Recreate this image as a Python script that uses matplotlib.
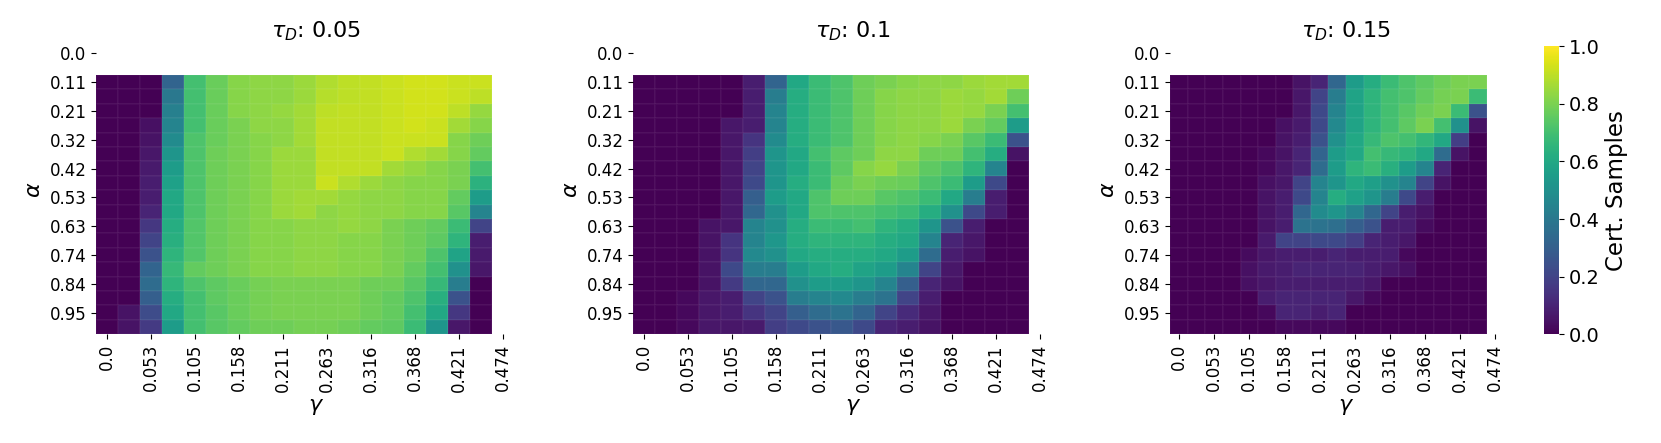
import numpy as np
import matplotlib
matplotlib.use("Agg")
import matplotlib.pyplot as plt
import seaborn as sns

# tick labels (every second grid value)
alpha_labels = ["0.0", "0.11", "0.21", "0.32", "0.42", "0.53", "0.63", "0.74", "0.84", "0.95"]
gamma_labels = ["0.0", "0.053", "0.105", "0.158", "0.211", "0.263", "0.316", "0.368", "0.421", "0.474"]
tau_values = ["0.05", "0.1", "0.15"]

# certified samples, one list per gamma column (alpha from 0.105 down to 1.0)
cert_tau005 = [
    [0, 0, 0, 0, 0, 0, 0, 0, 0, 0, 0, 0, 0, 0, 0, 0, 0, 0],
    [0, 0, 0, 0, 0, 0, 0, 0, 0, 0, 0, 0, 0, 0, 0, 0, 0.05, 0.05],
    [0, 0, 0, 0.04, 0.05, 0.06, 0.07, 0.08, 0.08, 0.1, 0.16, 0.2, 0.25, 0.32, 0.35, 0.3, 0.23, 0.17],
    [0.32, 0.4, 0.43, 0.45, 0.48, 0.52, 0.55, 0.57, 0.6, 0.6, 0.62, 0.63, 0.65, 0.67, 0.65, 0.62, 0.6, 0.55],
    [0.7, 0.7, 0.7, 0.7, 0.72, 0.72, 0.72, 0.72, 0.72, 0.72, 0.73, 0.73, 0.73, 0.76, 0.72, 0.7, 0.7, 0.7],
    [0.77, 0.77, 0.77, 0.77, 0.77, 0.78, 0.78, 0.78, 0.78, 0.78, 0.78, 0.78, 0.78, 0.78, 0.75, 0.75, 0.74, 0.74],
    [0.82, 0.82, 0.82, 0.8, 0.8, 0.8, 0.8, 0.8, 0.8, 0.8, 0.8, 0.8, 0.8, 0.8, 0.77, 0.77, 0.77, 0.76],
    [0.83, 0.83, 0.83, 0.83, 0.82, 0.82, 0.82, 0.82, 0.82, 0.82, 0.82, 0.82, 0.82, 0.82, 0.79, 0.79, 0.79, 0.78],
    [0.83, 0.83, 0.84, 0.83, 0.83, 0.85, 0.85, 0.85, 0.85, 0.85, 0.82, 0.82, 0.82, 0.82, 0.8, 0.8, 0.8, 0.78],
    [0.85, 0.85, 0.86, 0.86, 0.86, 0.85, 0.85, 0.85, 0.86, 0.86, 0.83, 0.83, 0.83, 0.83, 0.8, 0.8, 0.8, 0.79],
    [0.88, 0.89, 0.9, 0.91, 0.91, 0.91, 0.91, 0.92, 0.86, 0.83, 0.83, 0.83, 0.83, 0.83, 0.8, 0.8, 0.8, 0.79],
    [0.9, 0.9, 0.91, 0.91, 0.91, 0.91, 0.91, 0.88, 0.84, 0.84, 0.84, 0.82, 0.82, 0.82, 0.8, 0.8, 0.8, 0.78],
    [0.91, 0.91, 0.91, 0.91, 0.91, 0.91, 0.91, 0.85, 0.83, 0.83, 0.83, 0.82, 0.82, 0.82, 0.78, 0.78, 0.78, 0.76],
    [0.92, 0.92, 0.92, 0.92, 0.92, 0.92, 0.86, 0.83, 0.83, 0.83, 0.8, 0.8, 0.8, 0.8, 0.78, 0.76, 0.76, 0.75],
    [0.93, 0.93, 0.93, 0.93, 0.92, 0.88, 0.84, 0.82, 0.82, 0.82, 0.78, 0.78, 0.78, 0.76, 0.74, 0.72, 0.7, 0.68],
    [0.93, 0.93, 0.93, 0.92, 0.92, 0.86, 0.82, 0.82, 0.82, 0.82, 0.76, 0.75, 0.72, 0.7, 0.67, 0.63, 0.6, 0.52],
    [0.92, 0.92, 0.9, 0.86, 0.82, 0.82, 0.8, 0.8, 0.76, 0.74, 0.68, 0.65, 0.58, 0.5, 0.42, 0.25, 0.16, 0.06],
    [0.92, 0.9, 0.84, 0.82, 0.78, 0.76, 0.7, 0.64, 0.55, 0.45, 0.2, 0.08, 0.07, 0.06, 0, 0, 0, 0],
]

cert_tau010 = [
    [0, 0, 0, 0, 0, 0, 0, 0, 0, 0, 0, 0, 0, 0, 0, 0, 0, 0],
    [0, 0, 0, 0, 0, 0, 0, 0, 0, 0, 0, 0, 0, 0, 0, 0, 0, 0],
    [0, 0, 0, 0, 0, 0, 0, 0, 0, 0, 0, 0, 0, 0, 0, 0.02, 0.02, 0.02],
    [0, 0, 0, 0, 0, 0, 0, 0, 0, 0, 0.05, 0.05, 0.05, 0.05, 0.05, 0.06, 0.06, 0.06],
    [0, 0, 0, 0.06, 0.06, 0.06, 0.06, 0.06, 0.06, 0.06, 0.06, 0.15, 0.15, 0.22, 0.17, 0.08, 0.08, 0.06],
    [0.08, 0.08, 0.08, 0.08, 0.15, 0.18, 0.2, 0.22, 0.3, 0.33, 0.45, 0.45, 0.47, 0.42, 0.33, 0.2, 0.15, 0.07],
    [0.32, 0.42, 0.45, 0.45, 0.48, 0.52, 0.52, 0.52, 0.55, 0.5, 0.5, 0.53, 0.5, 0.42, 0.33, 0.25, 0.2, 0.18],
    [0.6, 0.62, 0.62, 0.62, 0.62, 0.6, 0.6, 0.62, 0.6, 0.6, 0.62, 0.62, 0.6, 0.55, 0.5, 0.42, 0.3, 0.22],
    [0.68, 0.68, 0.68, 0.68, 0.68, 0.7, 0.68, 0.68, 0.72, 0.72, 0.68, 0.65, 0.62, 0.6, 0.55, 0.45, 0.35, 0.25],
    [0.72, 0.72, 0.72, 0.72, 0.72, 0.75, 0.75, 0.77, 0.78, 0.72, 0.68, 0.65, 0.62, 0.62, 0.55, 0.47, 0.38, 0.27],
    [0.78, 0.78, 0.78, 0.78, 0.78, 0.78, 0.82, 0.8, 0.78, 0.72, 0.7, 0.65, 0.62, 0.58, 0.52, 0.42, 0.32, 0.22],
    [0.8, 0.82, 0.82, 0.82, 0.82, 0.83, 0.84, 0.78, 0.74, 0.7, 0.65, 0.62, 0.6, 0.55, 0.45, 0.38, 0.2, 0.1],
    [0.82, 0.83, 0.83, 0.83, 0.83, 0.83, 0.8, 0.77, 0.72, 0.68, 0.62, 0.6, 0.55, 0.45, 0.3, 0.2, 0.12, 0.08],
    [0.83, 0.83, 0.83, 0.83, 0.82, 0.78, 0.75, 0.72, 0.68, 0.62, 0.52, 0.45, 0.35, 0.2, 0.1, 0.08, 0.06, 0.05],
    [0.83, 0.85, 0.85, 0.85, 0.8, 0.78, 0.72, 0.68, 0.6, 0.5, 0.25, 0.1, 0.08, 0.06, 0.05, 0, 0, 0],
    [0.85, 0.84, 0.84, 0.8, 0.74, 0.7, 0.65, 0.55, 0.42, 0.22, 0.08, 0.06, 0.05, 0, 0, 0, 0, 0],
    [0.86, 0.86, 0.8, 0.76, 0.68, 0.62, 0.45, 0.22, 0.08, 0.08, 0, 0, 0, 0, 0, 0, 0, 0],
    [0.86, 0.78, 0.7, 0.55, 0.25, 0.05, 0, 0, 0, 0, 0, 0, 0, 0, 0, 0, 0, 0],
]

cert_tau015 = [
    [0, 0, 0, 0, 0, 0, 0, 0, 0, 0, 0, 0, 0, 0, 0, 0, 0, 0],
    [0, 0, 0, 0, 0, 0, 0, 0, 0, 0, 0, 0, 0, 0, 0, 0, 0, 0],
    [0, 0, 0, 0, 0, 0, 0, 0, 0, 0, 0, 0, 0, 0, 0, 0, 0, 0],
    [0, 0, 0, 0, 0, 0, 0, 0, 0, 0, 0, 0, 0, 0, 0, 0, 0, 0],
    [0, 0, 0, 0, 0, 0, 0, 0, 0, 0, 0, 0, 0.03, 0.04, 0.04, 0, 0, 0],
    [0, 0, 0, 0, 0, 0.02, 0.02, 0.04, 0.05, 0.05, 0.05, 0.07, 0.06, 0.07, 0.06, 0.08, 0.02, 0],
    [0, 0, 0, 0.04, 0.05, 0.05, 0.06, 0.06, 0.08, 0.08, 0.08, 0.2, 0.08, 0.08, 0.08, 0.1, 0.1, 0.02],
    [0.05, 0.06, 0.06, 0.07, 0.08, 0.1, 0.1, 0.2, 0.22, 0.33, 0.38, 0.2, 0.08, 0.1, 0.08, 0.1, 0.1, 0.02],
    [0.1, 0.2, 0.22, 0.22, 0.25, 0.32, 0.35, 0.45, 0.45, 0.48, 0.38, 0.22, 0.08, 0.1, 0.08, 0.1, 0.08, 0.02],
    [0.33, 0.42, 0.45, 0.47, 0.5, 0.55, 0.55, 0.52, 0.62, 0.52, 0.36, 0.22, 0.1, 0.1, 0.08, 0.1, 0.1, 0.02],
    [0.55, 0.58, 0.58, 0.58, 0.6, 0.6, 0.65, 0.6, 0.57, 0.45, 0.3, 0.18, 0.08, 0.1, 0.08, 0.06, 0, 0],
    [0.62, 0.65, 0.65, 0.65, 0.67, 0.7, 0.68, 0.56, 0.52, 0.33, 0.25, 0.1, 0.08, 0.08, 0.06, 0.02, 0, 0],
    [0.68, 0.7, 0.7, 0.7, 0.72, 0.67, 0.63, 0.5, 0.42, 0.2, 0.08, 0.08, 0.08, 0.06, 0, 0, 0, 0],
    [0.72, 0.72, 0.74, 0.75, 0.7, 0.65, 0.55, 0.45, 0.22, 0.08, 0.08, 0.06, 0.02, 0.04, 0, 0, 0, 0],
    [0.75, 0.76, 0.78, 0.8, 0.66, 0.6, 0.45, 0.2, 0.08, 0.05, 0.03, 0, 0, 0, 0, 0, 0, 0],
    [0.78, 0.79, 0.8, 0.7, 0.6, 0.35, 0.1, 0.05, 0, 0, 0, 0, 0, 0, 0, 0, 0, 0],
    [0.8, 0.8, 0.68, 0.5, 0.18, 0.05, 0, 0, 0, 0, 0, 0, 0, 0, 0, 0, 0, 0],
    [0.8, 0.68, 0.25, 0.05, 0, 0, 0, 0, 0, 0, 0, 0, 0, 0, 0, 0, 0, 0],
]

panels = [cert_tau005, cert_tau010, cert_tau015]

W, H = 1661, 443
fig = plt.figure(figsize=(W / 100, H / 100), dpi=100)

# axes placed in pixels (left, width); all share the same vertical extent
bottom = (H - 334.3) / H
height = 288.1 / H
ax_boxes = [(96.3, 440.0), (633.3, 440.0), (1170.3, 351.4)]
cax = fig.add_axes([1544.3 / W, bottom, 14.7 / W, height])

ticks = np.arange(0, 20, 2) + 0.5

for i, cols in enumerate(panels):
    left, width = ax_boxes[i]
    ax = fig.add_axes([left / W, bottom, width / W, height])

    # 20x20 grid, first two alpha rows and last two gamma columns are empty
    grid = np.full((20, 20), np.nan)
    grid[2:, :18] = np.array(cols).T

    last = i == len(panels) - 1
    sns.heatmap(grid, ax=ax, cmap="viridis", vmin=0, vmax=1,
                cbar=last, cbar_ax=cax if last else None,
                xticklabels=False, yticklabels=False,
                linewidths=0.2, linecolor=(1, 1, 1, 0.035))

    ax.set_xticks(ticks)
    ax.set_xticklabels(gamma_labels, rotation=90, fontsize=12)
    ax.set_yticks(ticks)
    ax.set_yticklabels(alpha_labels, rotation=0, fontsize=12)
    ax.set_xlabel(r"$\gamma$", fontsize=16)
    ax.set_ylabel(r"$\alpha$", fontsize=16)
    ax.set_title(r"$\tau_D$: " + tau_values[i], fontsize=16)

    if last:
        cbar = ax.collections[0].colorbar
        cbar.set_ticks([0.0, 0.2, 0.4, 0.6, 0.8, 1.0])
        cbar.ax.tick_params(labelsize=14)
        cbar.set_label("Cert. Samples", fontsize=16.5)

fig.savefig("out.png", dpi=100)
